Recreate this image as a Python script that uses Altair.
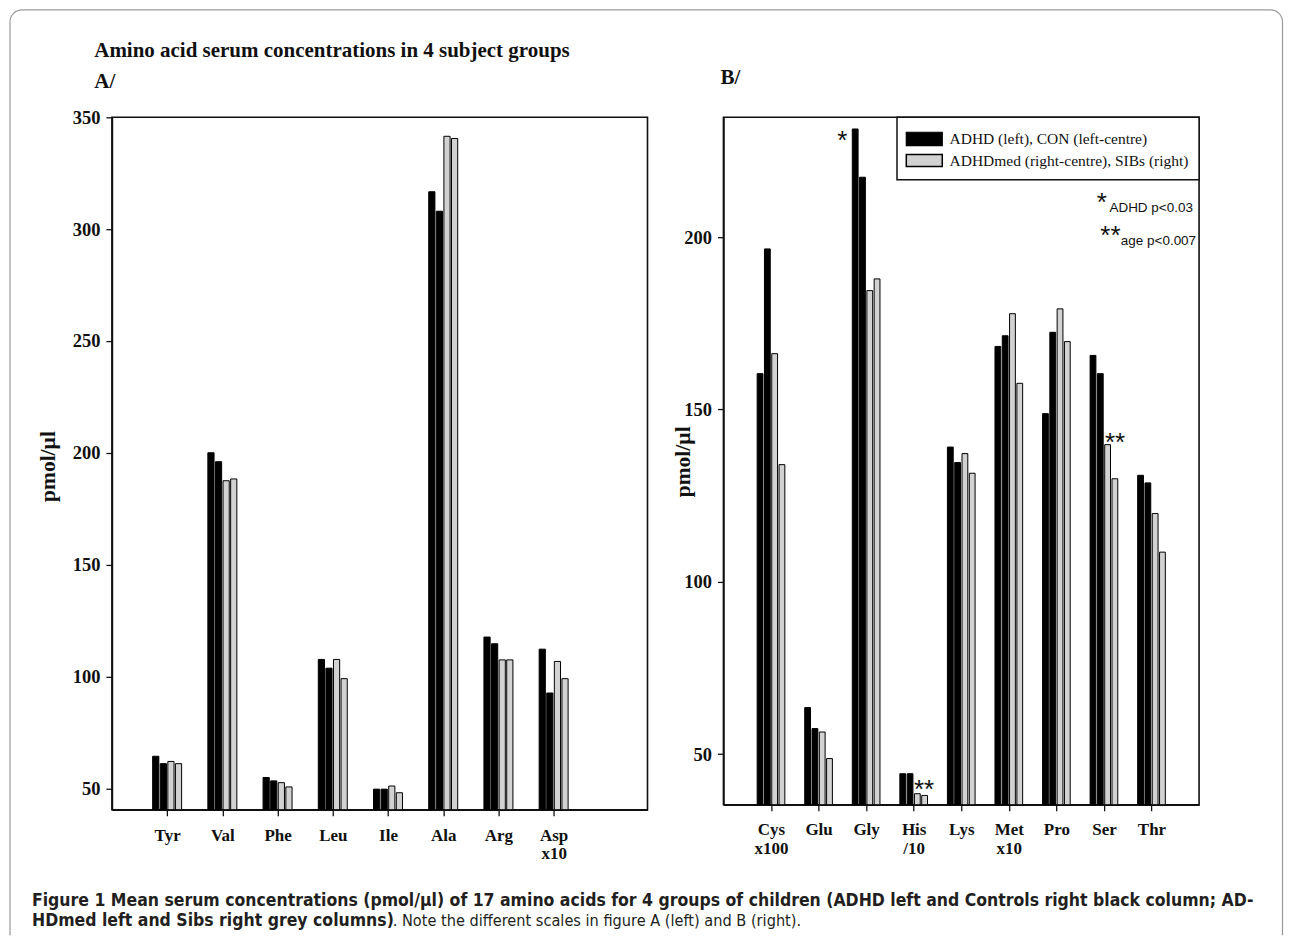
import json
import altair as alt
import pandas as pd

# ---------------- data ----------------
groups = ["ADHD", "CON", "ADHDmed", "SIBs"]

cats_a = ["Tyr", "Val", "Phe", "Leu", "Ile", "Ala", "Arg", "Asp x10"]
adhd_a = [64.3, 200.0, 54.8, 107.6, 49.6, 316.7, 117.6, 112.2]
con_a = [61.0, 196.0, 53.3, 103.7, 49.6, 308.0, 114.6, 92.6]
med_a = [62.0, 187.5, 52.5, 107.6, 51.0, 341.5, 107.4, 106.7]
sibs_a = [61.0, 188.3, 50.6, 99.0, 48.0, 340.5, 107.4, 99.0]

cats_b = ["Cys x100", "Glu", "Gly", "His /10", "Lys", "Met x10", "Pro", "Ser", "Thr"]
adhd_b = [160.4, 63.5, 231.4, 44.3, 139.1, 168.3, 148.8, 165.7, 130.9]
con_b = [196.6, 57.4, 217.4, 44.3, 134.6, 171.4, 172.4, 160.4, 128.7]
med_b = [166.2, 56.4, 184.5, 38.5, 137.2, 177.8, 179.2, 139.8, 119.8]
sibs_b = [134.0, 48.7, 187.9, 38.0, 131.5, 157.6, 169.7, 129.9, 108.6]

ticks_a = [50, 100, 150, 200, 250, 300, 350]
ticks_b = [50, 100, 150, 200]

legend_labels = ["ADHD (left), CON (left-centre)", "ADHDmed (right-centre), SIBs (right)"]

# ---------------- layout ----------------
WA, HA = 536, 693
WB, HB = 476, 688
XDOM_A, YDOM_A = [0, 9.7], [40.4, 350]
XDOM_B, YDOM_B = [0, 10], [35.3, 234.8]
PXU_A = WA / (XDOM_A[1] - XDOM_A[0])
PXU_B = WB / (XDOM_B[1] - XDOM_B[0])

SERIF = "Liberation Serif"
SANS = "Liberation Sans"
INK = "#111111"
GREY = "#d2d2d2"


def make_table(cats, series, pitch_px, width_px, pxu):
    rows = []
    for i, c in enumerate(cats):
        for g, (name, vals) in enumerate(series):
            center = i + 1 + (g - 1.5) * pitch_px / pxu
            half = width_px / pxu / 2
            rows.append(dict(cat=c, group=name, value=vals[i],
                             x0=center - half, x1=center + half, xc=center))
    return pd.DataFrame(rows)


df_a = make_table(cats_a, list(zip(groups, [adhd_a, con_a, med_a, sibs_a])), 7.6, 6.2, PXU_A)
df_b = make_table(cats_b, list(zip(groups, [adhd_b, con_b, med_b, sibs_b])), 7.3, 5.8, PXU_B)

fill_scale = alt.Scale(domain=groups, range=["#000000", "#000000", GREY, GREY])


def label_expr(cats):
    return "split(" + json.dumps(cats) + "[datum.value - 1], ' ')"


def x_axis(cats, pad, lh):
    return alt.Axis(values=list(range(1, len(cats) + 1)), labelExpr=label_expr(cats),
                    title=None, grid=False, tickSize=6, labelPadding=pad,
                    labelFont=SERIF, labelFontWeight="bold", labelFontSize=17,
                    labelLineHeight=lh, labelColor=INK, labelAngle=0,
                    labelFlush=False, labelOverlap=False)


def y_axis(vals, tx, ty):
    return alt.Axis(values=vals, title="pmol/µl", grid=False, tickSize=6, labelPadding=6,
                    labelFont=SERIF, labelFontWeight="bold", labelFontSize=18.5,
                    labelColor=INK, labelFlush=False,
                    titleFont=SERIF, titleFontWeight="bold", titleFontSize=21.5,
                    titleColor=INK, titleX=tx, titleY=ty, titleAngle=270,
                    titleAlign="center", titleBaseline="middle")


one = pd.DataFrame({"k": [0]})


def txt(text, x, y, size, font=SERIF, weight="normal", align="left",
        baseline="alphabetic", color=INK):
    return alt.Chart(one).mark_text(text=text, font=font, fontSize=size, fontWeight=weight,
                                    align=align, baseline=baseline, color=color).encode(
        x=alt.value(x), y=alt.value(y))


# ---------------- panel A ----------------
OX, OY = 111, 116
bars_a = alt.Chart(df_a).mark_rect(stroke="#000000", strokeWidth=1).encode(
    x=alt.X("x0:Q", scale=alt.Scale(domain=XDOM_A, nice=False, zero=False),
            axis=x_axis(cats_a, 12, 17.5)),
    x2="x1:Q",
    y=alt.Y("value:Q", scale=alt.Scale(domain=YDOM_A, nice=False, zero=False),
            axis=y_axis(ticks_a, 47.5 - OX, 465 - OY)),
    y2=alt.datum(YDOM_A[0]),
    fill=alt.Fill("group:N", scale=fill_scale, legend=None),
)

FR = "#999999"
FW = 1.2
fl, ft, fr, fb, rad = 9 - OX, 8.5 - OY, 1282.5 - OX, 934 - OY, 12
frame = [
    alt.Chart(one).mark_rect(fillOpacity=0, stroke=FR, strokeWidth=FW, strokeJoin="round",
                             cornerRadiusTopLeft=rad, cornerRadiusTopRight=rad).encode(
        x=alt.value(fl), x2=alt.value(fr), y=alt.value(ft), y2=alt.value(fb)),
    alt.Chart(one).mark_rule(color="white", strokeWidth=3).encode(
        x=alt.value(fl + 0.8), x2=alt.value(fr - 0.8), y=alt.value(fb)),
]

CAP = "Liberation Sans Narrow, DejaVu Sans Condensed, Roboto"
deco_a = [
    txt("Amino acid serum concentrations in 4 subject groups", 93.3 - OX, 56 - OY, 21, weight="bold"),
    txt("A/", 93.3 - OX, 87 - OY, 21, weight="bold"),
    txt("Figure 1 Mean serum concentrations (pmol/µl) of 17 amino acids for 4 groups of children "
        "(ADHD left and Controls right black column; AD-", 31 - OX, 905.7 - OY, 17.5,
        font=CAP, weight="bold", color="#231f20"),
    txt("HDmed left and Sibs right grey columns)", 31 - OX, 925.7 - OY, 17.5,
        font=CAP, weight="bold", color="#231f20"),
    txt(". Note the different scales in figure A (left) and B (right).", 392 - OX, 925.7 - OY, 16.2,
        font=CAP, weight="normal", color="#231f20"),
]

chart_a = alt.layer(*frame, bars_a, *deco_a).properties(width=WA, height=HA)

# ---------------- panel B ----------------
BX, BY = 723, 116.7
xs_b = alt.Scale(domain=XDOM_B, nice=False, zero=False)
ys_b = alt.Scale(domain=YDOM_B, nice=False, zero=False)
bars_b = alt.Chart(df_b).mark_rect(stroke="#000000", strokeWidth=1).encode(
    x=alt.X("x0:Q", scale=xs_b, axis=x_axis(cats_b, 11, 19.3)),
    x2="x1:Q",
    y=alt.Y("value:Q", scale=ys_b, axis=y_axis(ticks_b, 683 - BX, 461 - BY)),
    y2=alt.datum(YDOM_B[0]),
    fill=alt.Fill("group:N", scale=fill_scale, legend=None),
)

# significance asterisks attached to bars (position from the data, via scales)
stars = []
for cat, grp, label, dx, dy in [("Gly", "ADHD", "*", -12.8, 20.2),
                                ("His /10", "ADHDmed", "**", 6.7, 4.3),
                                ("Ser", "ADHDmed", "**", 7.5, 6.3)]:
    sub = df_b[(df_b.cat == cat) & (df_b.group == grp)]
    stars.append(alt.Chart(sub).mark_text(text=label, font=SANS, fontSize=26, dx=dx, dy=dy,
                                          align="center", baseline="alphabetic", color=INK).encode(
        x=alt.X("xc:Q", scale=xs_b), y=alt.Y("value:Q", scale=ys_b)))

leg = [
    alt.Chart(one).mark_rect(fill="white", stroke=INK, strokeWidth=1.5).encode(
        x=alt.value(896.7 - BX), x2=alt.value(WB), y=alt.value(0), y2=alt.value(179.3 - BY)),
    alt.Chart(one).mark_rect(fill="#000000", stroke="#000000", strokeWidth=1.2).encode(
        x=alt.value(906 - BX), x2=alt.value(942 - BX), y=alt.value(131.7 - BY), y2=alt.value(145 - BY)),
    alt.Chart(one).mark_rect(fill=GREY, stroke="#000000", strokeWidth=1.5).encode(
        x=alt.value(906 - BX), x2=alt.value(942 - BX), y=alt.value(154 - BY), y2=alt.value(166 - BY)),
    txt(legend_labels[0], 949.3 - BX, 138.4 - BY, 15.5, baseline="middle"),
    txt(legend_labels[1], 949.3 - BX, 160 - BY, 15.5, baseline="middle"),
]

notes = [
    txt("*", 1101.7 - BX, 210.3 - BY, 26, font=SANS, align="center"),
    txt("ADHD p<0.03", 1109.3 - BX, 211.7 - BY, 13.5, font=SANS),
    txt("**", 1110.3 - BX, 243.7 - BY, 26, font=SANS, align="center"),
    txt("age p<0.007", 1120.7 - BX, 244.5 - BY, 13.5, font=SANS),
    txt("B/", 720 - BX, 83 - BY, 21, weight="bold"),
]

chart_b = alt.layer(bars_b, *stars, *leg, *notes).properties(width=WB, height=HB)

chart = alt.hconcat(chart_a, chart_b, spacing=BX - OX - WA, bounds="flush").resolve_scale(
    x="independent", y="independent", fill="independent"
).properties(padding=0, background="white").configure_view(
    stroke=INK, strokeWidth=1.6
).configure_axis(
    domainColor=INK, domainWidth=1.6, tickColor=INK, tickWidth=1.3
)

chart.save("out.html", embed_options={"renderer": "svg", "actions": False})
